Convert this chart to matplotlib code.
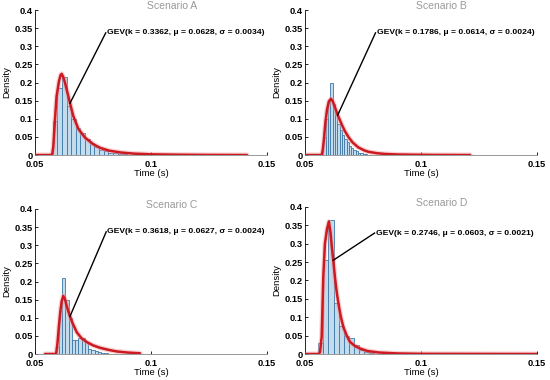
import numpy as np
import matplotlib
matplotlib.use("Agg")
import matplotlib.pyplot as plt

plt.rcParams['font.family'] = ['Liberation Sans', 'DejaVu Sans']

# --- data ---
titles = ["Scenario A", "Scenario B", "Scenario C", "Scenario D"]
gev_labels = [
    "GEV(k = 0.3362, \u03bc = 0.0628, \u03c3 = 0.0034)",
    "GEV(k = 0.1786, \u03bc = 0.0614, \u03c3 = 0.0024)",
    "GEV(k = 0.3618, \u03bc = 0.0627, \u03c3 = 0.0024)",
    "GEV(k = 0.2746, \u03bc = 0.0603, \u03c3 = 0.0021)",
]

# histogram bins (first left edge, width) and bar heights
bin_start = [0.0576, 0.0579, 0.0589, 0.0557]
bin_width = [0.0020, 0.0010, 0.0014, 0.0022]
hist_a = [0.093, 0.185, 0.215, 0.136, 0.100, 0.075, 0.060, 0.045, 0.033, 0.021,
          0.015, 0.010, 0.007, 0.005, 0.003, 0.002, 0.001]
hist_b = [0.05, 0.10, 0.15, 0.20, 0.14, 0.11, 0.085, 0.07, 0.055, 0.045, 0.035,
          0.025, 0.02, 0.013, 0.01, 0.007, 0.005, 0.003, 0.002]
hist_c = [0.02, 0.12, 0.21, 0.15, 0.10, 0.04, 0.04, 0.045, 0.045, 0.032, 0.015,
          0.01, 0.007, 0.005, 0.003, 0.002]
hist_d = [0.029, 0.255, 0.364, 0.138, 0.075, 0.05, 0.043, 0.024, 0.01, 0.005, 0.002]
hists = [hist_a, hist_b, hist_c, hist_d]

# fitted curves
curve_a_x = [0.050, 0.0570, 0.0575, 0.0579, 0.0586, 0.0593, 0.0603, 0.0610, 0.0615,
             0.0622, 0.0630, 0.0640, 0.0651, 0.0665, 0.0687, 0.0716, 0.0751, 0.0780,
             0.0820, 0.0870, 0.0924, 0.100, 0.110, 0.125, 0.1414]
curve_a_y = [0, 0, 0.005, 0.023, 0.097, 0.161, 0.202, 0.220, 0.224,
             0.215, 0.198, 0.172, 0.143, 0.108, 0.072, 0.048, 0.030, 0.020,
             0.012, 0.007, 0.004, 0.002, 0.001, 0.0003, 0]
curve_b_x = [0.050, 0.0572, 0.0577, 0.0582, 0.0588, 0.0595, 0.0603, 0.0612, 0.0620,
             0.0629, 0.0637, 0.0644, 0.0652, 0.0660, 0.0672, 0.0687, 0.0705, 0.0730,
             0.0755, 0.0773, 0.0810, 0.0845, 0.090, 0.095, 0.105, 0.1212]
curve_b_y = [0, 0, 0.015, 0.045, 0.090, 0.125, 0.148, 0.155, 0.148,
             0.132, 0.118, 0.106, 0.094, 0.082, 0.066, 0.050, 0.035, 0.021,
             0.013, 0.009, 0.005, 0.003, 0.0015, 0.001, 0.0003, 0]
curve_c_x = [0.0543, 0.0591, 0.0597, 0.0603, 0.0609, 0.0615, 0.0622, 0.0629, 0.0637,
             0.0644, 0.0651, 0.0662, 0.0680, 0.0700, 0.0723, 0.0750, 0.0781, 0.0820,
             0.0853, 0.0900, 0.0953]
curve_c_y = [0, 0, 0.03, 0.075, 0.115, 0.145, 0.160, 0.152, 0.132,
             0.117, 0.104, 0.085, 0.060, 0.044, 0.033, 0.024, 0.017, 0.011,
             0.007, 0.004, 0.002]
curve_d_x = [0.050, 0.0560, 0.0565, 0.0572, 0.0579, 0.0586, 0.0595, 0.0603, 0.0610,
             0.0616, 0.0622, 0.0629, 0.0636, 0.0644, 0.0654, 0.0665, 0.0680, 0.0694,
             0.0715, 0.0737, 0.0770, 0.0820, 0.0900, 0.100, 0.150]
curve_d_y = [0, 0, 0.006, 0.047, 0.21, 0.30, 0.34, 0.36, 0.33,
             0.29, 0.255, 0.21, 0.172, 0.138, 0.103, 0.074, 0.050, 0.033,
             0.022, 0.015, 0.008, 0.004, 0.0015, 0.0005, 0]
curves = [(curve_a_x, curve_a_y), (curve_b_x, curve_b_y),
          (curve_c_x, curve_c_y), (curve_d_x, curve_d_y)]

# annotation: line from point on the curve to the text
arrow_from = [(0.0651, 0.143), (0.0641, 0.110), (0.0651, 0.104), (0.0622, 0.255)]
text_at = [(0.0810, 0.337), (0.0809, 0.337), (0.0812, 0.337), (0.0805, 0.329)]

yticks = [0, 0.05, 0.1, 0.15, 0.2, 0.25, 0.3, 0.35, 0.4]
ytick_labels = ["0", "0.05", "0.1", "0.15", "0.2", "0.25", "0.3", "0.35", "0.4"]
xticks = [0.05, 0.1, 0.15]
xtick_labels = ["0.05", "0.1", "0.15"]

fig = plt.figure(figsize=(5.5, 3.8), dpi=100)
positions = [[0.0636, 0.592, 0.4218, 0.3816], [0.5545, 0.592, 0.4218, 0.3816],
             [0.0636, 0.0684, 0.4218, 0.3816], [0.5545, 0.0684, 0.4218, 0.3870]]

for i in range(4):
    ax = fig.add_axes(positions[i])
    edges = bin_start[i] + bin_width[i] * np.arange(len(hists[i]))
    ax.bar(edges, hists[i], width=bin_width[i], align='edge',
           color='#c2dcee', edgecolor='#3b78a8', linewidth=0.6, zorder=2)
    cx, cy = curves[i]
    ax.plot(cx, cy, color='#f29a9a', lw=3.6, alpha=0.45, zorder=3,
            solid_capstyle='round', solid_joinstyle='round')
    ax.plot(cx, cy, color='#cc1a22', lw=1.8, zorder=4,
            solid_capstyle='round', solid_joinstyle='round')
    ax.plot([arrow_from[i][0], text_at[i][0] - 0.0005],
            [arrow_from[i][1], text_at[i][1]], color='black', lw=1.0, zorder=5)
    ax.text(text_at[i][0], text_at[i][1], gev_labels[i], fontsize=6.1,
            fontweight='bold', va='center', ha='left', zorder=6)
    ax.set_xlim(0.05, 0.15)
    ax.set_ylim(0, 0.4)
    ax.set_xticks(xticks)
    ax.set_xticklabels(xtick_labels)
    ax.set_yticks(yticks)
    ax.set_yticklabels(ytick_labels)
    ax.tick_params(direction='in', length=2.5, width=0.6, labelsize=6.7)
    ax.tick_params(axis='x', pad=3.5)
    ax.tick_params(axis='y', pad=1.5)
    for lab in ax.get_xticklabels() + ax.get_yticklabels():
        lab.set_fontweight('bold')
    ax.spines['top'].set_visible(False)
    ax.spines['right'].set_visible(False)
    ax.spines['left'].set_linewidth(0.6)
    ax.spines['bottom'].set_linewidth(0.6)
    ax.spines['bottom'].set_color('#888888')
    ax.set_xlabel("Time (s)", fontsize=6.8, labelpad=0)
    ax.set_ylabel("Density", fontsize=6.8, labelpad=2)
    ax.text(0.59, 1.025, titles[i], transform=ax.transAxes, fontsize=7.5,
            color='#999999', ha='center', va='center')

fig.savefig("out.png", dpi=100)
